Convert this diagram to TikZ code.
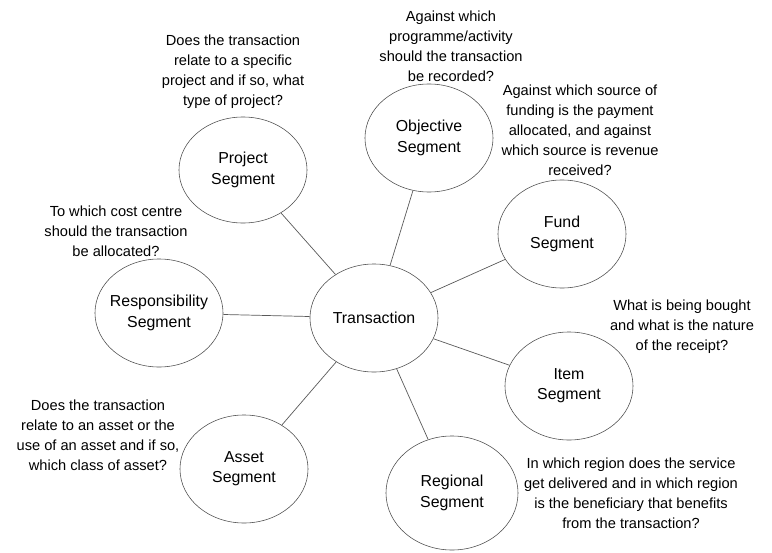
\documentclass[tikz,border=0pt]{standalone}
\usepackage{fontspec}
\setmainfont{Liberation Sans}
\usetikzlibrary{shapes.geometric}

\tikzset{%
  % Specifications for style of nodes:
         segment/.style = {ellipse, draw = black!70, inner sep=0pt, minimum width=3.2cm, minimum height=2.7cm, font=\fontsize{11.3}{14.4}\selectfont, align=center},
        question/.style = {align=center, font=\fontsize{10.4}{14.2}\selectfont, inner sep=0pt},
            link/.style = {draw = black!65, line width=0.5pt},
}

\begin{document}
\begin{tikzpicture}[x=0.025cm, y=-0.025cm]
    \useasboundingbox (0,0) rectangle (772,553);

    % Draw nodes
    \node (trans)    [segment]                      at (374,318) {Transaction};
    \node (project)  [segment, minimum height=2.65cm] at (243,170) {Project\\Segment};
    \node (object)   [segment]                      at (429,138) {Objective\\Segment};
    \node (fund)     [segment]                      at (562,234) {Fund\\Segment};
    \node (respons)  [segment, inner xsep=-0.1cm]   at (159,313) {Responsibility\\Segment};
    \node (item)     [segment]                      at (569,386) {Item\\Segment};
    \node (asset)    [segment]                      at (244,469) {Asset\\Segment};
    \node (region)   [segment, minimum width=3.3cm, minimum height=2.85cm] at (452,493) {Regional\\Segment};

    % Draw questions
    \node (qproject) [question] at (233,72)  {Does the transaction\\relate to a specific\\project and if so, what\\type of project?};
    \node (qobject)  [question] at (451,46)  {Against which\\programme/activity\\should the transaction\\be recorded?};
    \node (qfund)    [question] at (580,130) {Against which source of\\funding is the payment\\allocated, and against\\which source is revenue\\received?};
    \node (qrespons) [question] at (116,231) {To which cost centre\\should the transaction\\be allocated?};
    \node (qitem)    [question] at (682,327) {What is being bought\\and what is the nature\\of the receipt?};
    \node (qasset)   [question] at (98,435)  {Does the transaction\\relate to an asset or the\\use of an asset and if so,\\which class of asset?};
    \node (qregion)  [question] at (631,493) {In which region does the service\\get delivered and in which region\\is the beneficiary that benefits\\from the transaction?};

    % Draw links
    \foreach \seg in {project, object, fund, respons, item, asset, region}
        \draw[link] (trans) -- (\seg);

\end{tikzpicture}
\end{document}
